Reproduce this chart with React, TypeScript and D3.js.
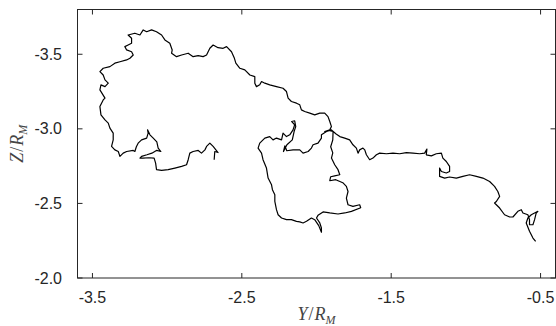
import React from "react";
import * as d3 from "d3";

// Trajectory: Y/R_M (horizontal) and Z/R_M (vertical)
const yValues: number[] = [
  -2.685, -2.681, -2.659, -2.692, -2.714, -2.736, -2.747, -2.770, -2.792, -2.826,
  -2.848, -2.859, -2.870, -2.903, -2.948, -2.993, -3.037, -3.071, -3.077, -3.087,
  -3.122, -3.162, -3.182, -3.171, -3.135, -3.102, -3.069, -3.042, -3.060, -3.069,
  -3.093, -3.115, -3.131, -3.127, -3.137, -3.171, -3.194, -3.206, -3.216, -3.227,
  -3.271, -3.294, -3.316, -3.327, -3.350, -3.372, -3.361, -3.361, -3.383, -3.394,
  -3.416, -3.443, -3.450, -3.428, -3.416, -3.450, -3.443, -3.416, -3.394, -3.416,
  -3.428, -3.450, -3.428, -3.383, -3.350, -3.316, -3.271, -3.249, -3.227, -3.238,
  -3.271, -3.283, -3.261, -3.238, -3.238, -3.261, -3.216, -3.182, -3.160, -3.137,
  -3.104, -3.071, -3.037, -3.015, -2.982, -2.966, -2.970, -2.937, -2.903, -2.859,
  -2.826, -2.792, -2.759, -2.736, -2.714, -2.692, -2.659, -2.625, -2.602, -2.569,
  -2.551, -2.540, -2.513, -2.480, -2.446, -2.413, -2.413, -2.402, -2.380, -2.368,
  -2.346, -2.313, -2.268, -2.224, -2.201, -2.190, -2.168, -2.134, -2.112, -2.101,
  -2.079, -2.045, -2.012, -1.978, -1.945, -1.923, -1.911, -1.900, -1.911, -1.945,
  -1.918, -1.889, -1.891, -1.905, -1.891, -1.900, -1.878, -1.856, -1.844, -1.878,
  -1.905, -1.911, -1.871, -1.824, -1.800, -1.789, -1.800, -1.789, -1.756, -1.711,
  -1.704, -1.766, -1.811, -1.856, -1.911, -1.956, -1.990, -2.000, -1.978, -1.967,
  -1.967, -1.985, -2.012, -2.034, -2.067, -2.090, -2.112, -2.134, -2.168, -2.201,
  -2.234, -2.257, -2.268, -2.279, -2.279, -2.295, -2.301, -2.324, -2.335, -2.358,
  -2.368, -2.391, -2.380, -2.346, -2.313, -2.291, -2.268, -2.234, -2.224, -2.201,
  -2.179, -2.157, -2.146, -2.166, -2.146, -2.139, -2.150, -2.162, -2.198, -2.221,
  -2.212, -2.199, -2.157, -2.112, -2.090, -2.056, -2.034, -2.023, -1.990, -1.967,
  -1.967, -1.933, -1.900, -1.871, -1.844, -1.811, -1.778, -1.756, -1.733, -1.722,
  -1.711, -1.689, -1.677, -1.666, -1.644, -1.622, -1.599, -1.577, -1.532, -1.488,
  -1.443, -1.398, -1.354, -1.309, -1.276, -1.261, -1.265, -1.231, -1.198, -1.164,
  -1.154, -1.131, -1.109, -1.109, -1.131, -1.164, -1.176, -1.176, -1.142, -1.109,
  -1.064, -1.020, -0.975, -0.930, -0.886, -0.841, -0.808, -0.786, -0.774, -0.796,
  -0.808, -0.774, -0.741, -0.707, -0.685, -0.652, -0.629, -0.618, -0.585, -0.574,
  -0.574, -0.551, -0.540, -0.529, -0.518, -0.540, -0.562, -0.585, -0.596, -0.574,
  -0.551, -0.533,
];

const zValues: number[] = [
  -2.793, -2.848, -2.841, -2.882, -2.904, -2.882, -2.859, -2.837, -2.855, -2.848,
  -2.837, -2.793, -2.759, -2.748, -2.737, -2.726, -2.721, -2.726, -2.770, -2.804,
  -2.806, -2.803, -2.804, -2.815, -2.826, -2.837, -2.856, -2.848, -2.871, -2.913,
  -2.938, -2.960, -2.993, -2.971, -2.938, -2.926, -2.904, -2.880, -2.848, -2.855,
  -2.848, -2.837, -2.815, -2.848, -2.859, -2.882, -2.926, -2.971, -3.005, -3.038,
  -3.060, -3.094, -3.149, -3.194, -3.206, -3.261, -3.295, -3.283, -3.306, -3.328,
  -3.361, -3.384, -3.406, -3.417, -3.440, -3.450, -3.462, -3.473, -3.495, -3.517,
  -3.529, -3.551, -3.562, -3.574, -3.607, -3.629, -3.641, -3.629, -3.663, -3.651,
  -3.663, -3.651, -3.629, -3.596, -3.574, -3.529, -3.507, -3.484, -3.495, -3.507,
  -3.484, -3.491, -3.484, -3.495, -3.540, -3.562, -3.544, -3.540, -3.551, -3.517,
  -3.477, -3.440, -3.406, -3.395, -3.361, -3.350, -3.306, -3.283, -3.295, -3.317,
  -3.306, -3.295, -3.283, -3.272, -3.250, -3.206, -3.183, -3.172, -3.161, -3.127,
  -3.116, -3.105, -3.094, -3.105, -3.105, -3.082, -3.049, -3.015, -2.993, -2.982,
  -2.990, -2.982, -2.926, -2.880, -2.839, -2.804, -2.759, -2.726, -2.692, -2.685,
  -2.679, -2.652, -2.659, -2.639, -2.614, -2.580, -2.536, -2.491, -2.480, -2.491,
  -2.471, -2.447, -2.436, -2.429, -2.436, -2.443, -2.420, -2.402, -2.369, -2.335,
  -2.307, -2.351, -2.391, -2.402, -2.380, -2.369, -2.376, -2.380, -2.391, -2.391,
  -2.402, -2.424, -2.458, -2.513, -2.558, -2.592, -2.625, -2.670, -2.737, -2.793,
  -2.837, -2.871, -2.904, -2.938, -2.948, -2.926, -2.938, -2.926, -2.971, -2.948,
  -2.960, -2.993, -3.027, -3.049, -3.054, -3.015, -2.982, -2.926, -2.893, -2.848,
  -2.886, -2.853, -2.859, -2.859, -2.837, -2.848, -2.871, -2.893, -2.904, -2.938,
  -2.960, -2.982, -2.993, -2.967, -2.948, -2.938, -2.926, -2.893, -2.871, -2.837,
  -2.859, -2.871, -2.859, -2.826, -2.793, -2.804, -2.826, -2.837, -2.833, -2.837,
  -2.833, -2.841, -2.837, -2.833, -2.837, -2.864, -2.826, -2.819, -2.833, -2.837,
  -2.804, -2.781, -2.748, -2.714, -2.704, -2.714, -2.737, -2.681, -2.670, -2.677,
  -2.670, -2.681, -2.692, -2.681, -2.670, -2.647, -2.614, -2.580, -2.547, -2.513,
  -2.503, -2.469, -2.424, -2.409, -2.409, -2.447, -2.458, -2.436, -2.424, -2.391,
  -2.357, -2.357, -2.391, -2.436, -2.447, -2.436, -2.424, -2.402, -2.369, -2.313,
  -2.268, -2.246,
];

const xTicks: number[] = [-3.5, -2.5, -1.5, -0.5];
const xTickLabels: string[] = ["-3.5", "-2.5", "-1.5", "-0.5"];
const yTicks: number[] = [-3.5, -3.0, -2.5, -2.0];
const yTickLabels: string[] = ["-3.5", "-3.0", "-2.5", "-2.0"];

const W = 556;
const H = 326;
const left = 77.5;
const right = 555.5;
const top = 9.5;
const bottom = 278;

export default function App() {
  const x = d3.scaleLinear().domain([-3.6, -0.4]).range([left, right]);
  const y = d3.scaleLinear().domain([-3.8, -2.0]).range([top, bottom]);

  const pts: [number, number][] = yValues.map((v, i) => [v, zValues[i]]);
  const line = d3
    .line<[number, number]>()
    .x((d) => x(d[0]))
    .y((d) => y(d[1]));

  const axisColor = "#262626";
  const tickLen = 5;
  const font = "'Liberation Sans', Arial, Helvetica, sans-serif";
  const mathFont = "'Liberation Serif', 'Times New Roman', serif";

  return (
    <svg
      width={W}
      height={H}
      style={{ position: "absolute", left: 0, top: 0, background: "#fff" }}
    >
      <rect x={0} y={0} width={W} height={H} fill="#fff" />
      <path d={line(pts) || ""} fill="none" stroke="#000" strokeWidth={1.2} strokeLinejoin="round" />
      <rect
        x={left}
        y={top}
        width={right - left}
        height={bottom - top}
        fill="none"
        stroke={axisColor}
        strokeWidth={1}
      />
      {xTicks.map((t, i) => (
        <g key={"xt" + i}>
          <line x1={x(t)} x2={x(t)} y1={bottom} y2={bottom - tickLen} stroke={axisColor} />
          <line x1={x(t)} x2={x(t)} y1={top} y2={top + tickLen} stroke={axisColor} />
          <text
            x={x(t)}
            y={303}
            textAnchor="middle"
            fontFamily={font}
            fontSize={16}
            fill={axisColor}
          >
            {xTickLabels[i]}
          </text>
        </g>
      ))}
      {yTicks.map((t, i) => (
        <g key={"yt" + i}>
          <line x1={left} x2={left + tickLen} y1={y(t)} y2={y(t)} stroke={axisColor} />
          <line x1={right} x2={right - tickLen} y1={y(t)} y2={y(t)} stroke={axisColor} />
          <text
            x={62}
            y={y(t)}
            dy="0.35em"
            textAnchor="end"
            fontFamily={font}
            fontSize={16}
            fill={axisColor}
          >
            {yTickLabels[i]}
          </text>
        </g>
      ))}
      <text
        x={(left + right) / 2}
        y={320}
        textAnchor="middle"
        fontFamily={mathFont}
        fontSize={18}
        fill="#444"
      >
        <tspan fontStyle="italic">Y</tspan>
        <tspan dx={1}>/</tspan>
        <tspan fontStyle="italic" dx={1}>R</tspan>
        <tspan fontStyle="italic" fontSize={12} dy={3.5}>M</tspan>
      </text>
      <text
        transform={`translate(23, ${(top + bottom) / 2}) rotate(-90)`}
        textAnchor="middle"
        fontFamily={mathFont}
        fontSize={18}
        fill="#444"
      >
        <tspan fontStyle="italic">Z</tspan>
        <tspan dx={1}>/</tspan>
        <tspan fontStyle="italic" dx={1}>R</tspan>
        <tspan fontStyle="italic" fontSize={12} dy={3.5}>M</tspan>
      </text>
    </svg>
  );
}
